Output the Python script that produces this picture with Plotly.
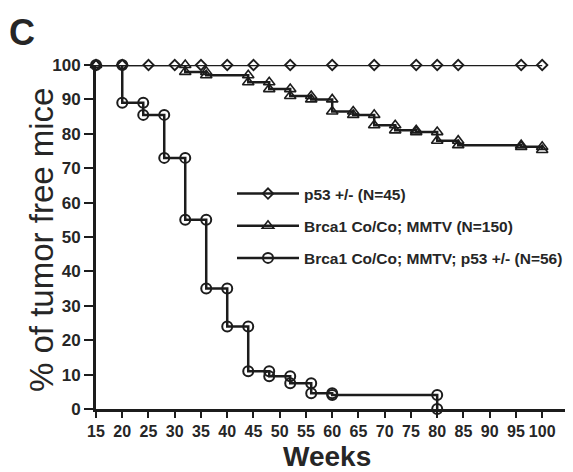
import plotly.graph_objects as go

# ---- data ----
p53_weeks = [15, 20, 25, 30, 35, 40, 45, 52, 60, 68, 76, 80, 84, 96, 100]
p53_pct = [100] * len(p53_weeks)

brca_weeks = [32, 36, 44, 48, 52, 56, 60, 64, 68, 72, 76, 80, 84, 96, 100]
brca_pct = [98, 97, 95, 93, 91, 90, 86.5, 85.5, 82.5, 81, 80.5, 78, 76.7, 76.2, 75.3]

triple_weeks = [20, 24, 28, 32, 36, 40, 44, 48, 52, 56, 60, 80]
triple_pct = [89, 85.5, 73, 55, 35, 24, 11, 9.5, 7.5, 4.6, 4.1, 0]

start_week = 15
start_pct = 100

x_ticks = list(range(15, 101, 5))
y_ticks = list(range(0, 101, 10))

labels = ["p53 +/- (N=45)",
          "Brca1 Co/Co; MMTV (N=150)",
          "Brca1 Co/Co; MMTV; p53 +/- (N=56)"]


def km_steps(times, vals, t0, v0):
    xs, ys = [t0], [v0]
    prev = v0
    for t, v in zip(times, vals):
        xs += [t, t]
        ys += [prev, v]
        prev = v
    return xs, ys


LINE = "#1c1c1c"
TXT = "#262626"
FONT = "Liberation Sans, Arial, sans-serif"

# the page body adds an 8px offset; size the figure so that it fits the window
PAGE_OFF = 8
W, H = 573 - PAGE_OFF, 472 - PAGE_OFF
ML, MR, MT, MB = 96 - PAGE_OFF, 3, 65 - PAGE_OFF, 63
PW, PH = W - ML - MR, H - MT - MB


def px_to_paper(px, py):
    """page pixel -> paper coords of the plot area"""
    return (px - PAGE_OFF - ML) / PW, 1 - (py - PAGE_OFF - MT) / PH


fig = go.Figure()

bx, by = km_steps(brca_weeks, brca_pct, start_week, start_pct)
tx, ty = km_steps(triple_weeks, triple_pct, start_week, start_pct)

fig.add_trace(go.Scatter(
    x=p53_weeks, y=p53_pct, mode="lines+markers", name=labels[0],
    legendgroup="a", cliponaxis=False,
    line=dict(color=LINE, width=2.5),
    marker=dict(symbol="diamond-open", size=8, color=LINE, line=dict(width=1.8, color=LINE))))
fig.add_trace(go.Scatter(
    x=bx, y=by, mode="lines+markers", name=labels[1],
    legendgroup="b", cliponaxis=False,
    line=dict(color=LINE, width=2.5),
    marker=dict(symbol="triangle-up-open", size=10, color=LINE, line=dict(width=1.6, color=LINE))))
fig.add_trace(go.Scatter(
    x=tx, y=ty, mode="lines+markers", name=labels[2],
    legendgroup="c", cliponaxis=False,
    line=dict(color=LINE, width=2.5),
    marker=dict(symbol="circle-open", size=10, color=LINE, line=dict(width=2, color=LINE))))

lx, ly = px_to_paper(232, 177)
cx, cy = px_to_paper(22, 32)
tx_, ty_ = px_to_paper(41, 240)
wx, wy = px_to_paper(327, 456)

fig.update_layout(
    width=W, height=H,
    margin=dict(l=ML, r=MR, t=MT, b=MB, autoexpand=False),
    paper_bgcolor="white", plot_bgcolor="white",
    font=dict(family=FONT, color=TXT),
    showlegend=True,
    legend=dict(x=lx, y=ly, xanchor="left", yanchor="top",
                bgcolor="rgba(0,0,0,0)", tracegroupgap=9, itemwidth=62,
                font=dict(size=15.5, family=FONT, color=TXT, weight="bold")),
    xaxis=dict(range=[15, 105.3], tickvals=x_ticks, ticktext=[str(v) for v in x_ticks],
               tickangle=0, showgrid=False, zeroline=False, automargin=False,
               showline=True, linecolor=LINE, linewidth=3,
               ticks="outside", ticklen=6, tickwidth=2, tickcolor=LINE,
               tickfont=dict(size=16, family=FONT, color=TXT, weight="bold")),
    yaxis=dict(range=[0, 100], tickvals=y_ticks, ticktext=[str(v) for v in y_ticks],
               showgrid=False, zeroline=False, automargin=False,
               showline=True, linecolor=LINE, linewidth=3,
               ticks="outside", ticklen=9, tickwidth=2, tickcolor=LINE,
               tickfont=dict(size=17, family=FONT, color=TXT, weight="bold")),
)
fig.add_annotation(text="<b>Weeks</b>", xref="paper", yref="paper",
                   x=wx, y=wy, xanchor="center", yanchor="middle",
                   showarrow=False, font=dict(size=28, family=FONT, color=TXT))
fig.add_annotation(text="% of tumor free mice", xref="paper", yref="paper",
                   x=tx_, y=ty_, xanchor="center", yanchor="middle", textangle=-90,
                   showarrow=False, font=dict(size=33, family=FONT, color=TXT))
fig.add_annotation(text="<b>C</b>", xref="paper", yref="paper",
                   x=cx, y=cy, xanchor="center", yanchor="middle",
                   showarrow=False, font=dict(size=36, family=FONT, color=TXT))

fig.write_html("out.html")
